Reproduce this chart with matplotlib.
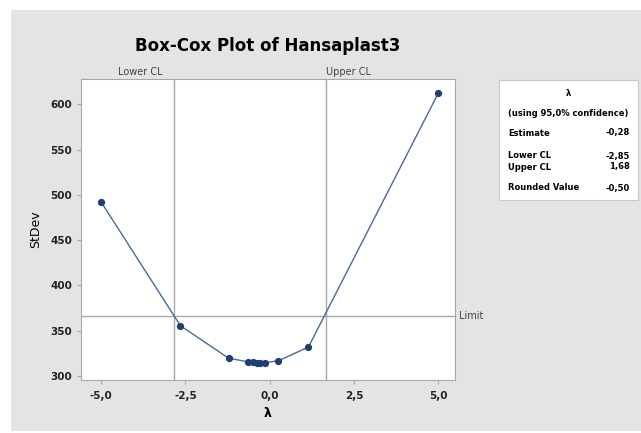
import matplotlib
matplotlib.use("Agg")
import matplotlib.pyplot as plt
from matplotlib.patches import Rectangle
from matplotlib.ticker import FuncFormatter

# values
lambdas = [-5.0, -2.65, -1.22, -0.65, -0.5, -0.38, -0.28, -0.15, 0.26, 1.15, 5.0]
stdevs = [492.0, 355.5, 319.6, 315.6, 315.0, 314.6, 314.4, 314.6, 316.8, 331.9, 612.0]
lower_cl = -2.85
upper_cl = 1.68
limit = 366.5
xticks = [-5.0, -2.5, 0.0, 2.5, 5.0]
yticks = [300, 350, 400, 450, 500, 550, 600]
table_rows = [("Estimate", "-0,28"), ("Lower CL", "-2,85"),
              ("Upper CL", "1,68"), ("Rounded Value", "-0,50")]

W, H = 641, 433
fig = plt.figure(figsize=(W / 100, H / 100), dpi=100)
fig.patch.set_facecolor("white")


def px(x, y):
    return x / W, 1 - y / H


# grey panel behind everything
fig.patches.append(Rectangle(px(11, 431), 630 / W, 421 / H, transform=fig.transFigure,
                             facecolor="#e4e4e4", edgecolor="none", zorder=-10))

x0, y0 = px(81, 380)
ax = fig.add_axes([x0, y0, (455 - 81) / W, (380 - 79) / H])
ax.set_zorder(1)
ax.set_facecolor("white")
ax.plot(lambdas, stdevs, color="#4a6a9a", lw=1.0, zorder=3)
ax.plot(lambdas, stdevs, "o", color="#1f3f73", ms=4.2, zorder=4)

grey = "#a8a8a8"
ax.axvline(lower_cl, color=grey, lw=1.0, zorder=2)
ax.axvline(upper_cl, color=grey, lw=1.0, zorder=2)
ax.axhline(limit, color=grey, lw=1.0, zorder=2)

ax.set_xlim(-5.6, 5.5)
ax.set_ylim(295.5, 628)
ax.set_xticks(xticks)
ax.set_yticks(yticks)
ax.xaxis.set_major_formatter(FuncFormatter(lambda v, p: f"{v:.1f}".replace(".", ",")))
for s in ax.spines.values():
    s.set_color(grey)
ax.tick_params(colors=grey, length=3, width=0.8, labelsize=7.5, labelcolor="#222222")
ax.tick_params(axis="x", pad=5)
for lab in ax.get_xticklabels() + ax.get_yticklabels():
    lab.set_fontweight("bold")

ax.set_xlabel("λ", fontsize=9, fontweight="bold", labelpad=4)
ax.set_ylabel("StDev", fontsize=9, labelpad=6)

fig.text(*px(268, 46), "Box-Cox Plot of Hansaplast3", ha="center", va="center",
         fontsize=12, fontweight="bold")
ax.annotate("Lower CL", (lower_cl, 1.005), xycoords=ax.get_xaxis_transform(),
            xytext=(-8, 0), textcoords="offset points",
            ha="right", va="bottom", fontsize=7, color="#444444")
ax.text(upper_cl, 1.005, "Upper CL", transform=ax.get_xaxis_transform(),
        ha="left", va="bottom", fontsize=7, color="#444444")
ax.text(1.012, limit, "Limit", transform=ax.get_yaxis_transform(),
        ha="left", va="center", fontsize=7, color="#444444")

# summary box on the right
fig.patches.append(Rectangle(px(499, 200), 139 / W, 120 / H, transform=fig.transFigure,
                             facecolor="white", edgecolor="#c8c8c8", lw=0.8, zorder=-5))
fig.text(*px(568, 93), "λ", ha="center", va="center", fontsize=6, fontweight="bold")
fig.text(*px(568, 113), "(using 95,0% confidence)", ha="center", va="center",
         fontsize=6, fontweight="bold")
row_y = [133, 156, 167, 188]
for (name, val), ry in zip(table_rows, row_y):
    fig.text(*px(508, ry), name, ha="left", va="center", fontsize=6, fontweight="bold")
    fig.text(*px(630, ry), val, ha="right", va="center", fontsize=6, fontweight="bold")

fig.savefig("out.png", dpi=100, facecolor=fig.get_facecolor())
